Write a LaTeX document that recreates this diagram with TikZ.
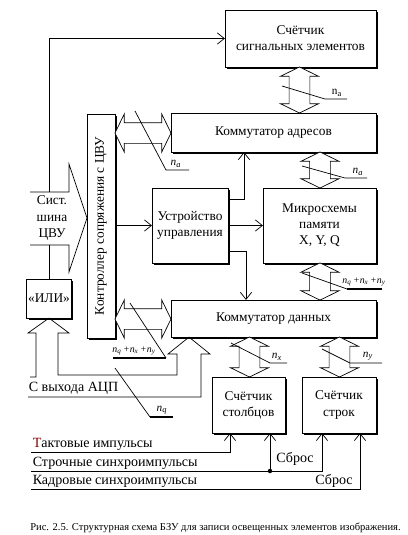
\documentclass[tikz,border=0pt]{standalone}
\usepackage{graphicx}
\usepackage{fontspec}
\setmainfont{Liberation Serif}
\usetikzlibrary{arrows.meta,shapes.arrows,shadows}

\tikzset{
  block/.style={draw, fill=white, inner sep=1pt, outer sep=0pt, align=center,
    general shadow={fill=black, shadow xshift=0.05cm, shadow yshift=-0.05cm}},
  bus/.style={double arrow, draw, fill=white, inner xsep=0pt, inner ysep=0.25cm, outer sep=0pt,
    double arrow head extend=0.22cm, double arrow tip angle=128},
  wire/.style={-{Straight Barb[length=5pt,width=8pt]}},
  buslabel/.style={font=\fontsize{8}{9}\selectfont\itshape, inner sep=1pt, anchor=south},
  signal/.style={anchor=south west, inner sep=1pt, font=\fontsize{10}{12}\selectfont},
}

\begin{document}
\begin{tikzpicture}[x=0.025cm, y=-0.025cm, line width=0.5pt, font=\fontsize{9.5}{11.5}\selectfont]
  \useasboundingbox (0,0) rectangle (408,535);

  % blocks
  \node[block, minimum width=3.78cm, minimum height=1.43cm] (counter) at (300.5,38.5) {Счётчик\\сигнальных элементов};
  \node[block, minimum width=5.13cm, minimum height=0.98cm] (addrsw) at (273.5,132.5) {Коммутатор адресов};
  \node[block, minimum width=0.70cm, minimum height=5.60cm] (ctrl) at (101,226) {\rotatebox{90}{Контроллер сопряжения с ЦВУ}};
  \node[block, minimum width=1.90cm, minimum height=1.88cm] (cu) at (190,225.5) {Устройство\\управления};
  \node[block, minimum width=2.83cm, minimum height=1.88cm] (mem) at (319.5,225.5) {Микросхемы\\памяти\\X, Y, Q};
  \node[block, minimum width=5.13cm, minimum height=0.93cm] (datasw) at (273.5,318.5) {Коммутатор данных};
  \node[block, minimum width=1.05cm, minimum height=0.98cm] (ili) at (49,298.5) {«ИЛИ»};
  \node[block, minimum width=1.83cm, minimum height=1.40cm] (colcnt) at (248.5,405) {Счётчик\\столбцов};
  \node[block, minimum width=1.85cm, minimum height=1.40cm] (rowcnt) at (339,405) {Счётчик\\строк};

  % buses
  \node[bus, minimum height=1.40cm] (ctrladdr) at (143,133) {};
  \node[bus, minimum height=1.15cm, rotate=90] (cntaddr) at (299.5,90) {};
  \node[bus, minimum height=0.90cm, rotate=90] (addrmem) at (320,170) {};
  \node[bus, minimum height=1.40cm] (ctrldata) at (143,319) {};
  \node[bus, minimum height=0.93cm, rotate=90] (memdata) at (320,281.5) {};
  \node[bus, minimum height=1.00cm, rotate=90] (datacol) at (249.5,357) {};
  \node[bus, minimum height=1.00cm, rotate=90] (datarow) at (339.5,357) {};

  % system bus
  \draw (30,192) -- (69,192) -- (69,164) -- (ctrl.west |- 0,218) -- (69,272) -- (69,245) -- (30,245);
  \node[align=center] (sysbus) at (52,218) {Сист.\\шина\\ЦВУ};
  \draw[wire] (49,192) |- (counter.west);
  \draw (ili.north) -- (ili.north |- 0,245);

  % ADC input
  \draw (30,377) -- (36,377) -- (36,333) -- (28,333) -- (ili.south) -- (69,333) -- (58,333) -- (58,375)
    -- (177,375) -- (177,354) -- (168,354) -- (datasw.south -| 189,0) -- (210,354) -- (201,354)
    -- (201,397) -- (28,397);
  \node[signal] (adc) at (27,396) {С выхода АЦП};

  % control
  \draw[wire] (ctrl.east |- cu.west) -- (cu.west);
  \draw[wire] (cu.east) -- (mem.west);
  \draw[wire] (cu.east |- 0,199) -| (addrsw.south -| 244,0);
  \draw[wire] (cu.east |- 0,251) -| (datasw.north -| 246,0);

  % bus widths
  \draw (135,111) -- (166,170) -- (189,170);
  \node[buslabel] at (176,169) {n\textsubscript{a}};
  \draw (282,86) -- (325,99) -- (347,99);
  \node[buslabel, font=\fontsize{8}{9}\selectfont] at (337,98) {n\textsubscript{a}};
  \draw (302,166) -- (345,178) -- (367,178);
  \node[buslabel] at (358,177) {n\textsubscript{a}};
  \draw (302,273) -- (347,289);
  \draw[line width=1.5pt] (347,289) -- (382,289);
  \node[buslabel, font=\fontsize{7}{8}\selectfont\itshape] at (364,288) {n\textsubscript{q}\,+n\textsubscript{x}\,+n\textsubscript{y}};
  \draw (130,303) -- (166,358);
  \draw[line width=1.5pt] (113,358) -- (166,358);
  \node[buslabel, font=\fontsize{7}{8}\selectfont\itshape] at (134,357) {n\textsubscript{q}\,+n\textsubscript{x}\,+n\textsubscript{y}};
  \draw (115,368) -- (150,417);
  \draw[line width=1.5pt] (150,417) -- (173,417);
  \node[buslabel] at (162,416) {n\textsubscript{q}};
  \draw (231,343) -- (270,363) -- (287,363);
  \node[buslabel] at (277,362) {n\textsubscript{x}};
  \draw (322,349) -- (350,363) -- (382,363);
  \node[buslabel] at (368,362) {n\textsubscript{y}};

  % sync signals
  \node[signal] (tact) at (31,452) {\textcolor{red!55!black}{Т}актовые импульсы};
  \node[signal] (line) at (31,471) {Строчные синхроимпульсы};
  \node[signal] (frame) at (31,489) {Кадровые синхроимпульсы};
  \draw[wire] (tact.south west) -| (colcnt.south -| 230,0);
  \draw[wire] (line.south west) -| (rowcnt.south -| 322,0);
  \coordinate (rst) at (270,471);
  \fill (rst) circle (1.6pt);
  \draw[wire] (rst) -- (colcnt.south -| rst);
  \draw[wire] (frame.south west) -| (rowcnt.south -| 360,0);
  \node[font=\fontsize{10}{12}\selectfont] (reset1) at (295,459) {Сброс};
  \node[font=\fontsize{10}{12}\selectfont] (reset2) at (334,481) {Сброс};

  \node[font=\fontsize{7.5}{9}\selectfont] (caption) at (215.5,528) {Рис. 2.5. Структурная схема БЗУ для записи освещенных элементов изображения.};
\end{tikzpicture}
\end{document}
